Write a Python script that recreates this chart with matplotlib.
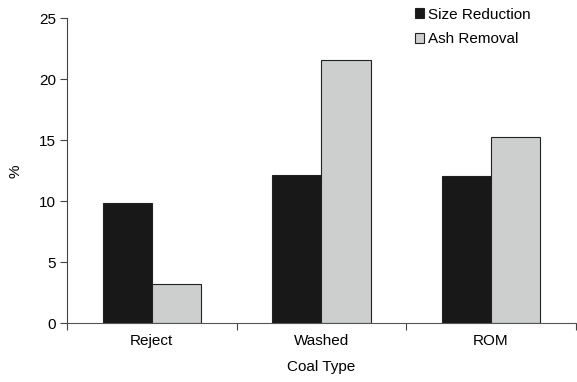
import matplotlib
matplotlib.use("Agg")
import matplotlib.pyplot as plt
import numpy as np

plt.rcParams['font.family'] = ['Liberation Sans', 'DejaVu Sans']

categories = ["Reject", "Washed", "ROM"]
size_reduction = [9.85, 12.18, 12.1]
ash_removal = [3.22, 21.58, 15.3]
yticks = [0, 5, 10, 15, 20, 25]

fig = plt.figure(figsize=(5.77, 3.82), dpi=100)
ax = fig.add_axes([0.116, 0.1537, 0.882, 0.798])

x = np.arange(len(categories)) + 0.5
w = 0.29
b1 = ax.bar(x - w/2, size_reduction, w, color='#181818', edgecolor='#222222', linewidth=0.8, label='Size Reduction')
b2 = ax.bar(x + w/2, ash_removal, w, color='#cdcfce', edgecolor='#222222', linewidth=0.8, label='Ash Removal')

fs = 11
ax.set_xlim(0, 3)
ax.set_ylim(0, 25)
ax.set_yticks(yticks)
ax.set_xticks([0, 1, 2, 3])
ax.set_xticklabels([])
ax.set_xticks(x, minor=True)
ax.set_xticklabels(categories, minor=True)
ax.tick_params(axis='x', which='minor', length=0, pad=8, labelsize=fs)
ax.tick_params(axis='x', which='major', length=5, direction='out', color='#444444')
ax.tick_params(axis='y', length=5, direction='out', labelsize=fs, color='#444444', pad=3)

for s in ['top', 'right']:
    ax.spines[s].set_visible(False)
ax.spines['left'].set_color('#444444')
ax.spines['bottom'].set_color('#555555')

ax.set_xlabel('Coal Type', fontsize=fs, labelpad=8)
ax.set_ylabel('%', fontsize=fs, labelpad=12)

leg = fig.legend(handles=[b1, b2], loc='upper left', bbox_to_anchor=(0.709, 0.996),
                 frameon=False, fontsize=fs, handlelength=0.6, handleheight=0.6,
                 handletextpad=0.25, labelspacing=0.7, borderaxespad=0)

fig.savefig('out.png', dpi=100)
